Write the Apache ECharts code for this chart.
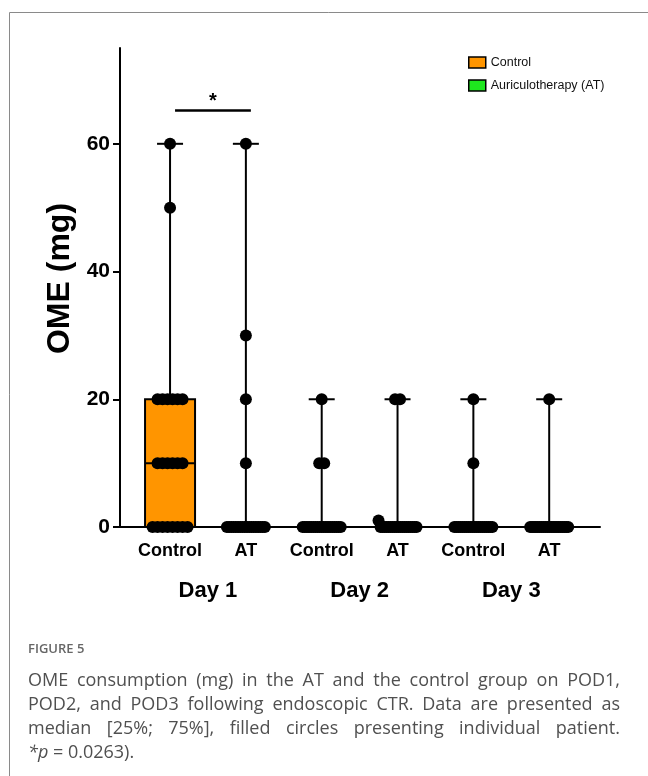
<!DOCTYPE html>
<html><head><meta charset="utf-8">
<script src="https://cdn.jsdelivr.net/npm/echarts@6/dist/echarts.min.js"></script>
<style>html,body{margin:0;padding:0;background:#fff}#chart{width:648px;height:776px}</style>
</head><body><div id="chart"></div>
<script>
// Axis text
const groupLabels = ['Control', 'AT', 'Control', 'AT', 'Control', 'AT'];
const dayLabels = ['Day 1', 'Day 2', 'Day 3'];
const dayPositions = [0.5, 2.5, 4.5];
const yTicks = [0, 20, 40, 60];
const seriesNames = ['Control', 'Auriculotherapy (AT)'];

// OME consumption (mg), one value per patient
const day1Control = [0, 0, 0, 0, 0, 0, 0, 0, 10, 10, 10, 10, 10, 10, 20, 20, 20, 20, 20, 20, 50, 60];
const day1AT = [0, 0, 0, 0, 0, 0, 0, 0, 0, 0, 0, 0, 0, 0, 0, 0, 0, 0, 10, 20, 30, 60];
const day2Control = [0, 0, 0, 0, 0, 0, 0, 0, 0, 0, 0, 0, 0, 0, 0, 0, 0, 0, 0, 10, 10, 20];
const day2AT = [0, 0, 0, 0, 0, 0, 0, 0, 0, 0, 0, 0, 0, 0, 0, 0, 0, 0, 0, 1, 20, 20];
const day3Control = [0, 0, 0, 0, 0, 0, 0, 0, 0, 0, 0, 0, 0, 0, 0, 0, 0, 0, 0, 0, 10, 20];
const day3AT = [0, 0, 0, 0, 0, 0, 0, 0, 0, 0, 0, 0, 0, 0, 0, 0, 0, 0, 0, 0, 0, 20];

// Significance annotation: [group a, group b, bracket height (mg), label]
const sigPairs = [[0, 1, 65.2, '*']];

const groups = [day1Control, day1AT, day2Control, day2AT, day3Control, day3AT];

// Quantile, (n+1)p rule with linear interpolation
function quantile(sorted, p) {
  const n = sorted.length;
  let pos = (n + 1) * p;
  if (pos < 1) pos = 1;
  if (pos > n) pos = n;
  const lo = Math.floor(pos), hi = Math.ceil(pos);
  return sorted[lo - 1] + (sorted[hi - 1] - sorted[lo - 1]) * (pos - lo);
}

function boxStats(values, idx) {
  const s = values.slice().sort((a, b) => a - b);
  return [idx, s[0], quantile(s, 0.25), quantile(s, 0.5), quantile(s, 0.75), s[s.length - 1]];
}

const controlBoxes = [], atBoxes = [];
groups.forEach((g, i) => (i % 2 === 0 ? controlBoxes : atBoxes).push(boxStats(g, i)));

// Spread near-equal values sideways so every patient dot stays visible
const dots = [];
groups.forEach((g, gi) => {
  const bins = {};
  g.slice().sort((a, b) => b - a).forEach(v => {
    const k = Math.round(v / 5);
    (bins[k] = bins[k] || []).push(v);
  });
  Object.values(bins).forEach(row => {
    const n = row.length;
    const step = n > 1 ? Math.min(5, 38 / (n - 1)) : 0;
    row.forEach((v, i) => dots.push([gi, v, (i - (n - 1) / 2) * step]));
  });
});

function renderBox(params, api) {
  const x = api.value(0);
  const yMin = api.coord([x, api.value(1)])[1];
  const yQ1 = api.coord([x, api.value(2)])[1];
  const c = api.coord([x, api.value(3)]);
  const yQ3 = api.coord([x, api.value(4)])[1];
  const yMax = api.coord([x, api.value(5)])[1];
  const px = c[0], hw = 25, cw = 13;
  const line = { stroke: '#000', lineWidth: 2 };
  return {
    type: 'group',
    children: [
      { type: 'line', shape: { x1: px, y1: yMax, x2: px, y2: yQ3 }, style: line },
      { type: 'line', shape: { x1: px, y1: yQ1, x2: px, y2: yMin }, style: line },
      { type: 'line', shape: { x1: px - cw, y1: yMax, x2: px + cw, y2: yMax }, style: line },
      { type: 'line', shape: { x1: px - cw, y1: yMin, x2: px + cw, y2: yMin }, style: line },
      { type: 'rect', shape: { x: px - hw, y: yQ3, width: 2 * hw, height: yQ1 - yQ3 },
        style: { fill: api.visual('color'), stroke: '#000', lineWidth: 2 } },
      { type: 'line', shape: { x1: px - hw, y1: c[1], x2: px + hw, y2: c[1] }, style: line }
    ]
  };
}

function renderDot(params, api) {
  const p = api.coord([api.value(0), api.value(1)]);
  return { type: 'circle', shape: { cx: p[0] + api.value(2), cy: p[1], r: 6 }, style: { fill: '#000' } };
}

function renderSig(params, api) {
  const y = api.value(2);
  const a = api.coord([api.value(0), y]);
  const b = api.coord([api.value(1), y]);
  const d = sigPairs[params.dataIndex];
  return {
    type: 'group',
    children: [
      { type: 'line', shape: { x1: a[0] + 5, y1: a[1], x2: b[0] + 5, y2: b[1] }, style: { stroke: '#000', lineWidth: 2.5 } },
      { type: 'text', style: { x: (a[0] + b[0]) / 2 + 5, y: a[1] + 1, text: d[3], align: 'center', verticalAlign: 'bottom',
        font: 'bold 20px "Liberation Sans", Arial, sans-serif', fill: '#000' } }
    ]
  };
}

const sans = '"Liberation Sans", Arial, sans-serif';

// Caption below the chart, justified within its column
const captionLines = [
  'OME consumption (mg) in the AT and the control group on POD1,',
  'POD2, and POD3 following endoscopic CTR. Data are presented as',
  'median [25%; 75%], filled circles presenting individual patient.'
];
const captionFont = '18px "Open Sans", sans-serif';
const measure = document.createElement('canvas').getContext('2d');
measure.font = captionFont;
const capLeft = 28, capRight = 620, capTop = 672, capLead = 24;
const captionGraphics = [];
captionLines.forEach((ln, li) => {
  const words = ln.split(' ');
  const widths = words.map(w => measure.measureText(w).width);
  const total = widths.reduce((s, w) => s + w, 0);
  const gap = (capRight - capLeft - total) / (words.length - 1);
  let x = capLeft;
  words.forEach((w, wi) => {
    captionGraphics.push({ type: 'text', left: x, top: capTop + li * capLead,
      style: { text: w, font: captionFont, fill: '#505050' } });
    x += widths[wi] + gap;
  });
});
captionGraphics.push({ type: 'text', left: capLeft, top: capTop + 3 * capLead,
  style: { text: '{i|*p} = 0.0263).', font: captionFont, fill: '#505050',
    rich: { i: { font: 'italic 18px "Open Sans", sans-serif', fill: '#505050' } } } });
captionGraphics.push({ type: 'text', left: capLeft, top: 643,
  style: { text: 'FIGURE 5', font: '600 13px "Open Sans", sans-serif', fill: '#666' } });
captionGraphics.push({ type: 'polyline', shape: { points: [[9.5, 776], [9.5, 12.5], [648, 12.5]] },
  style: { stroke: '#8a8a8a', lineWidth: 1, fill: null } });

const chart = echarts.init(document.getElementById('chart'), null, { renderer: 'canvas' });
chart.setOption({
  animation: false,
  backgroundColor: '#fff',
  grid: { left: 120, right: 48, top: 48, bottom: 249, containLabel: false },
  legend: {
    orient: 'vertical', left: 463, top: 51, itemWidth: 17, itemHeight: 11, itemGap: 10,
    data: seriesNames.map(n => ({ name: n, icon: 'rect' })),
    itemStyle: { borderColor: '#000', borderWidth: 1.5 },
    textStyle: { fontFamily: sans, fontSize: 12.5, color: '#111' }
  },
  xAxis: [
    {
      type: 'value', min: -0.66, max: 5.67,
      axisLine: { onZero: false, lineStyle: { color: '#000', width: 2 } },
      splitLine: { show: false },
      axisTick: { customValues: groupLabels.map((_, i) => i), length: 5, lineStyle: { color: '#000', width: 2 } },
      axisLabel: { customValues: groupLabels.map((_, i) => i), formatter: v => groupLabels[Math.round(v)],
        margin: 15, fontFamily: sans, fontWeight: 'bold', fontSize: 18, color: '#000' }
    },
    {
      type: 'value', min: -0.66, max: 5.67, position: 'bottom',
      axisLine: { show: false, onZero: false }, axisTick: { show: false }, splitLine: { show: false },
      axisLabel: { customValues: dayPositions, formatter: v => dayLabels[Math.round((v - 0.5) / 2)],
        margin: 53, fontFamily: sans, fontWeight: 'bold', fontSize: 22, color: '#000' }
    }
  ],
  yAxis: {
    type: 'value', min: 0, max: 75,
    name: 'OME (mg)', nameLocation: 'middle', nameRotate: 90, nameGap: 44,
    nameTextStyle: { fontFamily: sans, fontWeight: 'bold', fontSize: 32, color: '#000', padding: [0, 0, 0, 18] },
    axisLine: { show: true, onZero: false, lineStyle: { color: '#000', width: 2 } },
    splitLine: { show: false },
    axisTick: { show: true, customValues: yTicks, length: 7, lineStyle: { color: '#000', width: 2 } },
    axisLabel: { customValues: yTicks, margin: 10, fontFamily: sans, fontWeight: 'bold', fontSize: 21, color: '#000' }
  },
  series: [
    { name: seriesNames[0], type: 'custom', renderItem: renderBox, data: controlBoxes,
      itemStyle: { color: '#ff9500' }, encode: { x: 0, y: 3 }, z: 2 },
    { name: seriesNames[1], type: 'custom', renderItem: renderBox, data: atBoxes,
      itemStyle: { color: '#1ee61e' }, encode: { x: 0, y: 3 }, z: 2 },
    { name: 'patients', type: 'custom', renderItem: renderDot, data: dots, encode: { x: 0, y: 1 }, z: 3 },
    { name: 'significance', type: 'custom', renderItem: renderSig, data: sigPairs.map(s => [s[0], s[1], s[2]]),
      encode: { x: [0, 1], y: 2 }, z: 3 }
  ],
  graphic: captionGraphics
});
</script>
</body></html>
